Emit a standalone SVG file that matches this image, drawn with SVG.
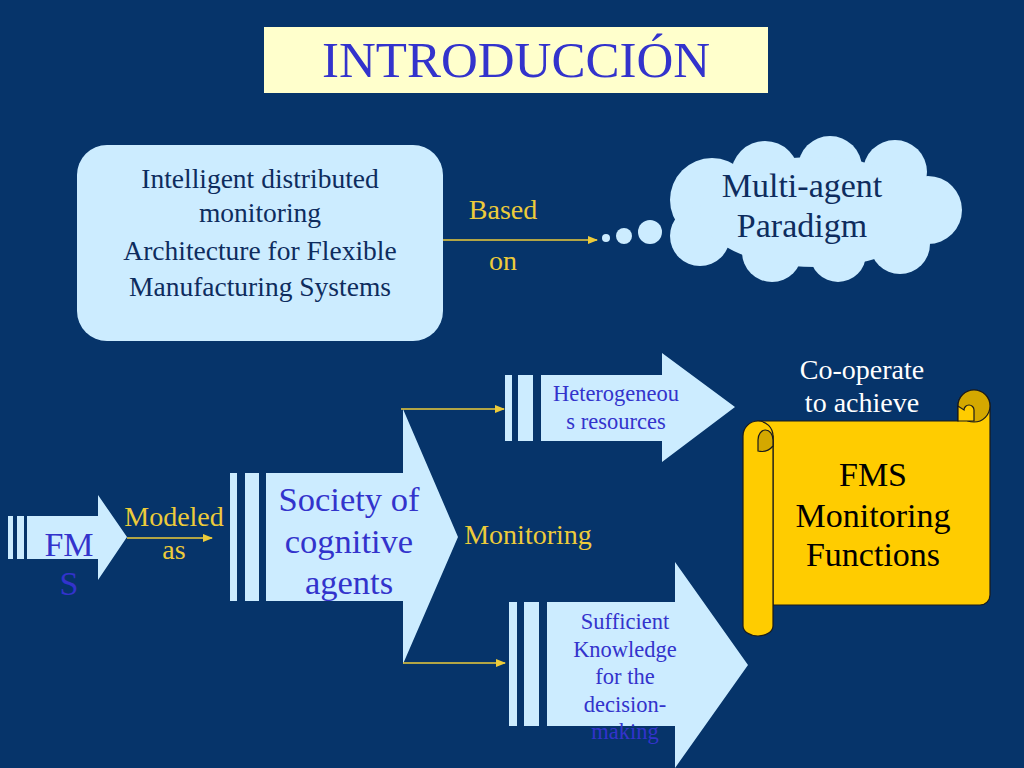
<svg xmlns="http://www.w3.org/2000/svg" width="1024" height="768" viewBox="0 0 1024 768" font-family="'Liberation Serif', 'DejaVu Serif', serif">
<style>
text{font-family:'Liberation Serif','DejaVu Serif',serif}
.s{text-anchor:middle}
.y{fill:#EDCB3A}
.b{fill:#3333CC}
.n{fill:#0E2C5E}
.lb{fill:#CCECFF}
.ln{stroke:#EDCB3A;stroke-width:1.6;fill:none}
</style>
<defs>
<marker id="ah" markerWidth="10" markerHeight="8" refX="9" refY="4" orient="auto" markerUnits="userSpaceOnUse">
<path d="M0,0 L10,4 L0,8 Z" fill="#EDCB3A"/>
</marker>
</defs>
<rect width="1024" height="768" fill="#06346A"/>
<g id="title">
<rect x="264" y="27" width="504" height="66" fill="#FFFFCC"/>
<text class="s b" x="516" y="77" font-size="51">INTRODUCCIÓN</text>
</g>
<g id="architecture">
<rect class="lb" x="77" y="145" width="366" height="196" rx="30"/>
<text class="s n" font-size="27.5"><tspan x="260" y="188">Intelligent distributed</tspan><tspan x="260" y="222">monitoring</tspan><tspan x="260" y="260">Architecture for Flexible</tspan><tspan x="260" y="296">Manufacturing Systems</tspan></text>
</g>
<g id="cloud">
<circle class="lb" cx="606" cy="238" r="4"/>
<circle class="lb" cx="624" cy="236" r="8"/>
<circle class="lb" cx="650" cy="232" r="12"/>
<g class="lb">
<circle cx="712" cy="200" r="42"/>
<circle cx="700" cy="236" r="30"/>
<circle cx="765" cy="175" r="34"/>
<circle cx="830" cy="168" r="32"/>
<circle cx="895" cy="172" r="32"/>
<circle cx="928" cy="210" r="34"/>
<circle cx="900" cy="244" r="30"/>
<circle cx="838" cy="254" r="28"/>
<circle cx="772" cy="252" r="30"/>
<ellipse cx="815" cy="212" rx="115" ry="55"/>
</g>
<text class="s n" font-size="34"><tspan x="802" y="197">Multi-agent</tspan><tspan x="802" y="237">Paradigm</tspan></text>
</g>
<g id="fms">
<rect class="lb" x="8" y="516" width="5" height="43"/>
<rect class="lb" x="17" y="516" width="7" height="43"/>
<path class="lb" d="M27,516 L98,516 L98,495 L127,537 L98,580 L98,559 L27,559 Z"/>
<text class="s b" font-size="34"><tspan x="69" y="556">FM</tspan><tspan x="69" y="595">S</tspan></text>
</g>
<g id="society">
<rect class="lb" x="230" y="473" width="7" height="128"/>
<rect class="lb" x="245" y="473" width="14" height="128"/>
<path class="lb" d="M266,473 L403,473 L403,409 L458,537 L403,664 L403,601 L266,601 Z"/>
<text class="s b" font-size="34.5"><tspan x="349" y="511">Society of</tspan><tspan x="349" y="553">cognitive</tspan><tspan x="349" y="594">agents</tspan></text>
</g>
<g id="heterogeneous">
<rect class="lb" x="505" y="375" width="7" height="66"/>
<rect class="lb" x="518" y="375" width="15" height="66"/>
<path class="lb" d="M541,375 L662,375 L662,353 L735,407 L662,462 L662,441 L541,441 Z"/>
<text class="s b" font-size="22.5"><tspan x="616" y="401">Heterogeneou</tspan><tspan x="616" y="429">s resources</tspan></text>
</g>
<g id="knowledge">
<rect class="lb" x="509" y="602" width="8" height="124"/>
<rect class="lb" x="524" y="602" width="15" height="124"/>
<path class="lb" d="M547,602 L675,602 L675,562 L748,665 L675,768 L675,726 L547,726 Z"/>
<text class="s b" font-size="22.5"><tspan x="625" y="629">Sufficient</tspan><tspan x="625" y="657">Knowledge</tspan><tspan x="625" y="684">for the</tspan><tspan x="625" y="712">decision-</tspan><tspan x="625" y="739">making</tspan></text>
</g>
<g id="scroll" stroke="#1a1a1a" stroke-width="1.2">
<path fill="#FFCC00" d="M758,421 L958,421 L958,406 A16,16 0 0 1 990,406 L990,595 A10,10 0 0 1 980,605 L773,605 L773,436 Z"/>
<circle cx="974" cy="406" r="16" fill="#D4A800"/>
<path fill="#FFCC00" d="M958,406 L958,421 L974,421 L974,410 A5,5 0 0 0 964,410 Z"/>
<path fill="#FFCC00" d="M743,436 L743,626 A15,10 0 0 0 773,626 L773,436 A15,15 0 0 0 743,436 Z"/>
<path fill="#D4A800" d="M758,451 L758,440 A7.5,10 0 0 1 773,440 L773,446 A15,15 0 0 1 758,451 Z"/>
<text class="s" stroke="none" fill="#000" font-size="34"><tspan x="873" y="486">FMS</tspan><tspan x="873" y="527">Monitoring</tspan><tspan x="873" y="566">Functions</tspan></text>
</g>
<g id="connectors">
<line class="ln" x1="443" y1="240" x2="597" y2="240" marker-end="url(#ah)"/>
<line class="ln" x1="127" y1="538" x2="212" y2="538" marker-end="url(#ah)"/>
<line class="ln" x1="401" y1="409" x2="504" y2="409" marker-end="url(#ah)"/>
<line class="ln" x1="403" y1="663" x2="505" y2="663" marker-end="url(#ah)"/>
</g>
<g id="labels">
<text class="s y" font-size="28"><tspan x="503" y="219">Based</tspan><tspan x="503" y="270">on</tspan></text>
<text class="s y" font-size="28"><tspan x="174" y="526">Modeled</tspan><tspan x="174" y="559">as</tspan></text>
<text class="s y" x="528" y="544" font-size="28">Monitoring</text>
<text class="s" fill="#FFFFFF" font-size="28"><tspan x="862" y="379">Co-operate</tspan><tspan x="862" y="412">to achieve</tspan></text>
</g>
</svg>
